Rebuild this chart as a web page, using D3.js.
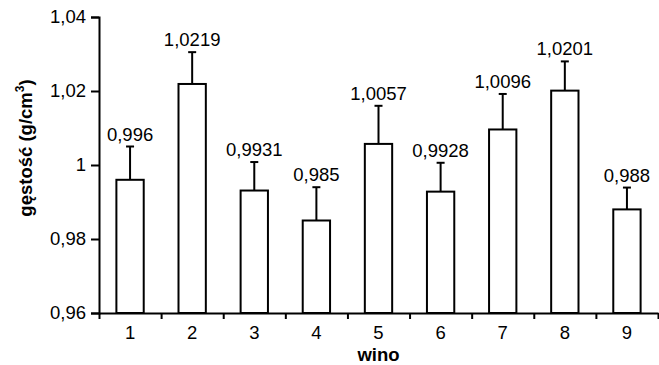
<!DOCTYPE html>
<html>
<head>
<meta charset="utf-8">
<script src="https://cdn.jsdelivr.net/npm/d3@7"></script>
<style>
  body { margin: 0; background: #fff; }
  svg text { font-family: 'Liberation Sans', Arial, sans-serif; fill: #000; }
</style>
</head>
<body>
<svg id="chart" width="659" height="365"></svg>
<script>
const wines = ['1', '2', '3', '4', '5', '6', '7', '8', '9']
const density = [0.996, 1.0219, 0.9931, 0.985, 1.0057, 0.9928, 1.0096, 1.0201, 0.988]
const errors = [0.009, 0.0086, 0.0077, 0.009, 0.0103, 0.0078, 0.0096, 0.0079, 0.0059]
const yTicks = [0.96, 0.98, 1, 1.02, 1.04]

const fontSize = '18.5px'
const margin = { top: 17, right: 1, bottom: 52, left: 99 }
const width = 659 - margin.left - margin.right
const height = 365 - margin.top - margin.bottom

const pl = d3.formatLocale({ decimal: ',', thousands: ' ', grouping: [3], currency: ['', ' zł'] })
const tickFmt = pl.format('.2~f')
const labelFmt = (v) => String(v).replace('.', ',')

const svg = d3.select('#chart')
  .append('g')
  .attr('transform', `translate(${margin.left}, ${margin.top})`)

const xScale = d3.scaleBand()
  .domain(wines)
  .range([0, width])
  .paddingInner(0.56)
  .paddingOuter(0.28)

// edges between categories, for the tick marks
const xEdge = d3.scaleLinear()
  .domain([0, wines.length])
  .range([0, width])

const yScale = d3.scaleLinear()
  .domain([0.96, 1.04])
  .range([height, 0])

// bars
svg.selectAll('.bar')
  .data(density)
  .enter()
  .append('rect')
  .attr('class', 'bar')
  .attr('x', (d, i) => xScale(wines[i]))
  .attr('width', xScale.bandwidth())
  .attr('y', (d) => yScale(d))
  .attr('height', (d) => height - yScale(d))
  .attr('fill', '#fff')
  .attr('stroke', '#000')
  .attr('stroke-width', 2)

// error bars (upper only)
const err = svg.selectAll('.err')
  .data(density)
  .enter()
  .append('g')
  .attr('class', 'err')
  .attr('transform', (d, i) => `translate(${xScale(wines[i]) + xScale.bandwidth() / 2}, 0)`)

err.append('line')
  .attr('y1', (d) => yScale(d))
  .attr('y2', (d, i) => yScale(d + errors[i]))
  .attr('stroke', '#000')
  .attr('stroke-width', 2)

err.append('line')
  .attr('x1', -4)
  .attr('x2', 4)
  .attr('y1', (d, i) => yScale(d + errors[i]))
  .attr('y2', (d, i) => yScale(d + errors[i]))
  .attr('stroke', '#000')
  .attr('stroke-width', 2)

err.append('text')
  .attr('y', (d, i) => yScale(d + errors[i]) - 6)
  .style('text-anchor', 'middle')
  .style('font-size', fontSize)
  .text((d) => labelFmt(d))

// y axis
svg.append('g')
  .attr('class', 'yAxis')
  .call(d3.axisLeft(yScale)
    .tickValues(yTicks)
    .tickSize(8)
    .tickPadding(5)
    .tickFormat(tickFmt))

// x axis: edge ticks, then category labels
svg.append('g')
  .attr('class', 'xAxis')
  .attr('transform', `translate(0, ${height})`)
  .call(d3.axisBottom(xEdge)
    .tickValues(d3.range(wines.length + 1))
    .tickSize(6)
    .tickSizeOuter(0)
    .tickFormat(''))

svg.append('g')
  .attr('class', 'xLabels')
  .attr('transform', `translate(0, ${height})`)
  .call(d3.axisBottom(xScale).tickSize(0).tickPadding(13))
  .call((g) => g.select('.domain').remove())

svg.selectAll('.yAxis, .xAxis')
  .selectAll('path, line')
  .attr('stroke', '#000')
  .attr('stroke-width', 2)

svg.selectAll('.yAxis text, .xLabels text')
  .style('font-size', fontSize)
  .style('font-family', "'Liberation Sans', Arial, sans-serif")

// axis titles
svg.append('text')
  .attr('transform', `translate(${width / 2}, ${height + 48})`)
  .style('text-anchor', 'middle')
  .style('font-size', fontSize)
  .style('font-weight', 'bold')
  .text('wino')

const yTitle = svg.append('text')
  .attr('transform', `translate(-67, 131) rotate(-90)`)
  .style('text-anchor', 'middle')
  .style('font-size', fontSize)
  .style('font-weight', 'bold')

yTitle.append('tspan').text('gęstość (g/cm')
yTitle.append('tspan').attr('dy', -8).style('font-size', '12px').text('3')
yTitle.append('tspan').attr('dy', 8).text(')')
</script>
</body>
</html>
